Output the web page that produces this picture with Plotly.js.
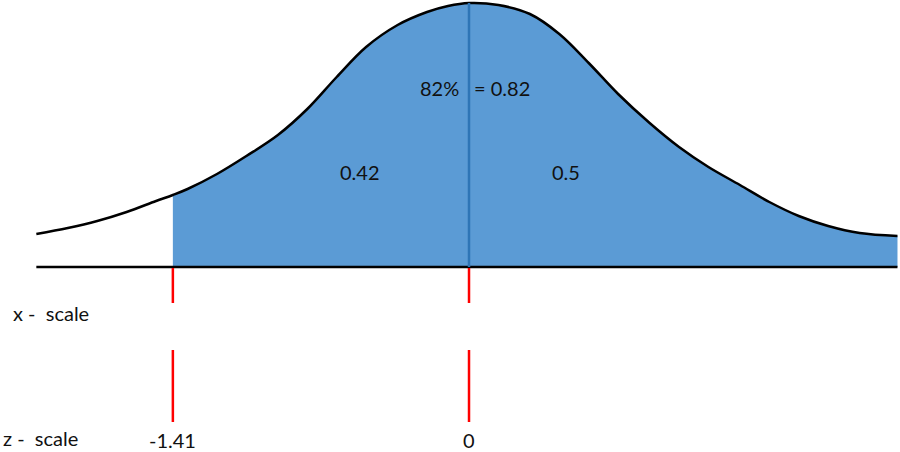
<!DOCTYPE html>
<html>
<head>
<meta charset="utf-8">
<script src="https://cdn.plot.ly/plotly-3.0.1.min.js"></script>
<style>
  html, body { margin: 0; padding: 0; background: #fff; }
  #plot { width: 900px; height: 452px; }
</style>
</head>
<body>
<div id="plot"></div>
<script>
// bell curve: z position and height above the baseline
let zValues = [-2.06, -1.91, -1.77, -1.63, -1.49, -1.41, -1.34, -1.2, -1.06, -0.91, -0.77, -0.63, -0.49, -0.34, -0.2, -0.1, 0,
               0.14, 0.29, 0.43, 0.57, 0.71, 0.86, 1.0, 1.14, 1.29, 1.43, 1.57, 1.71, 1.86, 2.04];
let heights = [33, 39, 46, 55, 66, 72, 78, 93, 111, 132, 158, 190, 220, 242, 255, 261, 264,
               262, 253, 233, 204, 173, 144, 120, 100, 82, 65, 51, 41, 34, 31];

// shaded area starts at this z
let zStart = -1.41;

// marked z values and their labels
let zTicks = [-1.41, 0];
let zTickLabels = ['-1.41', '0'];

// area labels
let areaLabels = ['0.42', '0.5'];
let areaLabelZ = [-0.52, 0.46];
let totalLeft = '82%';
let totalRight = '= 0.82';

let fillX = [], fillY = [];
for (let i = 0; i < zValues.length; i++) {
  if (zValues[i] >= zStart) { fillX.push(zValues[i]); fillY.push(heights[i]); }
}

let shaded = {
  x: fillX, y: fillY,
  type: 'scatter', mode: 'lines',
  line: {width: 0, shape: 'spline', color: '#5b9bd5'},
  fill: 'tozeroy', fillcolor: '#5b9bd5',
  hoverinfo: 'skip'
};

let curve = {
  x: zValues, y: heights,
  type: 'scatter', mode: 'lines',
  line: {width: 2.5, shape: 'spline', color: '#000'},
  hoverinfo: 'skip'
};

let zMin = zValues[0], zMax = zValues[zValues.length - 1];
let peak = Math.max.apply(null, heights);

let shapes = [
  // baseline
  {type: 'line', x0: zMin, x1: zMax, y0: 0, y1: 0, line: {color: '#000', width: 2.5}},
  // mean line
  {type: 'line', x0: 0, x1: 0, y0: 0, y1: peak, line: {color: '#2e75b6', width: 2.5}}
];
zTicks.forEach(function (z) {
  shapes.push({type: 'line', x0: z, x1: z, y0: -1, y1: -36, line: {color: '#ff0000', width: 2.5}});
  shapes.push({type: 'line', x0: z, x1: z, y0: -83, y1: -155, line: {color: '#ff0000', width: 2.5}});
});

let txtFont = {family: 'Lato, "Open Sans", sans-serif', size: 20, color: '#111'};

let annotations = [
  {x: -0.04, y: 179, text: totalLeft, xanchor: 'right', yanchor: 'middle', showarrow: false, font: txtFont},
  {x: 0.015, y: 179, text: totalRight, xanchor: 'left', yanchor: 'middle', showarrow: false, font: txtFont},
  {x: -2.18, y: -46, text: 'x -  scale', xanchor: 'left', yanchor: 'middle', showarrow: false, font: txtFont},
  {x: -2.23, y: -171, text: 'z -  scale', xanchor: 'left', yanchor: 'middle', showarrow: false, font: txtFont}
];
areaLabels.forEach(function (t, i) {
  annotations.push({x: areaLabelZ[i], y: 95, text: t, showarrow: false, font: txtFont});
});
zTickLabels.forEach(function (t, i) {
  annotations.push({x: zTicks[i], y: -173, text: t, showarrow: false, font: txtFont});
});

let layout = {
  width: 900,
  height: 452,
  margin: {l: 0, r: 0, t: 0, b: 0},
  showlegend: false,
  paper_bgcolor: '#fff',
  plot_bgcolor: '#fff',
  xaxis: {range: [-2.233, 2.052], visible: false, fixedrange: true},
  yaxis: {range: [-185, 267], visible: false, fixedrange: true},
  shapes: shapes,
  annotations: annotations
};

Plotly.newPlot('plot', [shaded, curve], layout, {displayModeBar: false, staticPlot: true});
</script>
</body>
</html>
